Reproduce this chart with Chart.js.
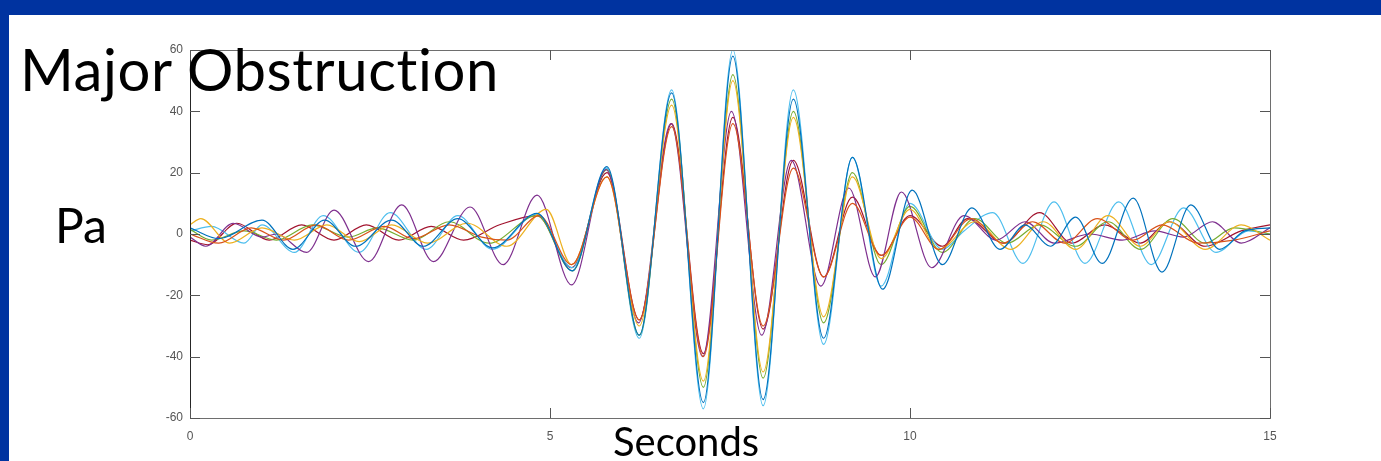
<!DOCTYPE html>
<html>
<head>
<meta charset="utf-8">
<script src="https://cdn.jsdelivr.net/npm/chart.js@4.4.1/dist/chart.umd.min.js"></script>
<style>
  html, body { margin: 0; padding: 0; }
  body { width: 1381px; height: 461px; background: #0033a0; position: relative; overflow: hidden; }
  #panel { position: absolute; left: 9px; top: 15px; right: 0; bottom: 0; background: #fff; }
  #wrap { position: absolute; left: 0; top: 0; width: 1381px; height: 461px; }
  .lbl { position: absolute; font-family: Lato, "Open Sans", sans-serif; color: #000; line-height: 1; white-space: nowrap; font-variant-ligatures: none; }
  #title { left: 20px; top: 40px; font-size: 58px; letter-spacing: 0.6px; }
  #ylab { left: 55px; top: 201px; font-size: 48px; }
  #xlab { left: 613px; top: 421px; font-size: 40px; }
</style>
</head>
<body>
<div id="panel"></div>
<div id="wrap"><canvas id="myChart" width="1381" height="461"></canvas></div>
<div class="lbl" id="title">Major Obstruction</div>
<div class="lbl" id="ylab">Pa</div>
<div class="lbl" id="xlab">Seconds</div>
<script>
"use strict";

// pressure traces, [seconds, Pa] (turning points)
var blue = [[0,2],[0.4,-1.5],[1.0,4.5],[1.43,-5],[1.87,4.5],[2.3,-4],[2.8,4.5],[3.24,-4],[3.72,5],[4.2,-4.5],[4.82,6.7],
    [5.31,-12],[5.79,22],[6.24,-33],[6.69,46],[7.13,-55],[7.54,58],[7.96,-54],[8.38,44],[8.8,-34],[9.2,25],[9.62,-18],[10.03,14.3],
    [10.45,-10],[10.86,8.5],[11.25,-5],[11.6,3],[11.95,-4],[12.3,5.5],[12.67,-9.6],[13.1,11.7],[13.5,-12.4],[13.9,9.5],[14.3,-5],[14.65,1],[15,2]];
var orange = [[0,0],[0.4,-3],[0.85,2],[1.3,-2],[1.75,3],[2.2,-2],[2.7,2.5],[3.1,-1.5],[3.6,3],[4.05,-1],[4.4,-2],[4.85,6],
    [5.3,-10],[5.79,18.6],[6.24,-28],[6.69,35],[7.13,-40],[7.54,36],[7.96,-30],[8.38,21.5],[8.8,-14],[9.2,10],[9.6,-7],[10.0,5.5],
    [10.4,-5],[10.85,5],[11.3,-3],[11.7,4],[12.15,-3],[12.6,5],[13.1,-2],[13.5,3],[14.0,-3],[14.5,-2],[15,1]];
var yellow = [[0,3],[0.15,5],[0.55,-3],[1.0,2],[1.45,-2],[1.9,3],[2.35,-2.5],[2.8,3],[3.3,-3],[3.85,3.5],[4.4,-4],[4.95,8],
    [5.3,-10],[5.79,18.6],[6.24,-30],[6.69,42],[7.13,-48],[7.54,50],[7.96,-45],[8.38,38],[8.8,-27],[9.2,18.6],[9.6,-8],[10.0,8],
    [10.4,-5],[10.9,4],[11.4,-5],[11.85,4],[12.3,-5],[12.75,6],[13.2,-4],[13.6,4],[14.1,-5],[14.6,3],[15,-2]];
var purple = [[0,-1],[0.22,-4],[0.6,3.5],[1.0,-1],[1.2,0],[1.62,-6],[2.0,7.8],[2.48,-9],[2.94,9.5],[3.38,-9],[3.89,8.8],[4.35,-10],[4.82,12.7],
    [5.3,-16.6],[5.78,21],[6.23,-29],[6.68,36],[7.12,-40],[7.52,40],[7.94,-33],[8.35,24],[8.76,-17],[9.15,15],[9.52,-14],[9.88,13.7],
    [10.3,-11],[10.75,6],[11.2,-2],[11.6,4],[12.0,-3],[12.5,0],[12.95,-2],[13.4,1],[13.8,-1],[14.2,4],[14.6,-3],[15,2]];
var green = [[0,1.5],[0.3,-2],[0.75,1],[1.2,-2],[1.7,3],[2.2,-1],[2.6,2],[3.1,-2],[3.6,4],[4.15,-3],[4.82,6],
    [5.31,-12],[5.79,21],[6.24,-33],[6.69,44],[7.13,-50],[7.54,52],[7.96,-47],[8.38,40],[8.8,-29],[9.2,20],[9.6,-10],[10.0,9],
    [10.45,-6],[10.9,5],[11.35,-3],[11.8,3],[12.3,-4],[12.75,4],[13.2,-5],[13.65,5],[14.1,-3],[14.5,2],[15,0]];
var cyan = [[0,1],[0.3,2.5],[0.75,-3],[1.0,3],[1.45,-6],[1.85,6],[2.35,-6],[2.78,7],[3.28,-5],[3.72,6],[4.2,-5],[4.82,6.5],
    [5.31,-11],[5.79,21.5],[6.24,-34],[6.69,47],[7.13,-57],[7.54,60],[7.96,-56],[8.38,47],[8.8,-36],[9.2,25],[9.6,-17],[10.0,10],
    [10.45,-5],[10.75,1],[11.15,7],[11.57,-9.6],[12.0,10.5],[12.43,-9.6],[12.9,10.5],[13.35,-10],[13.8,8.5],[14.25,-6],[14.7,1],[15,0]];
var red = [[0,-2],[0.25,-3.5],[0.65,3.5],[1.1,-2],[1.55,3],[2.0,-2],[2.45,3],[2.9,-2],[3.35,2.5],[3.8,-2],[4.3,3],[4.82,6],
    [5.3,-11],[5.79,20],[6.24,-28],[6.69,36],[7.13,-39],[7.54,38],[7.96,-31],[8.38,24],[8.8,-14],[9.2,12],[9.6,-7],[10.0,6],
    [10.45,-4],[10.8,5],[11.3,-3],[11.8,7],[12.25,-3],[12.7,3],[13.2,-3],[13.6,4],[14.1,-4],[14.6,1],[15,3]];

var xTicks = [0, 5, 10, 15];
var yTicks = [-60, -40, -20, 0, 20, 40, 60];

var series = [blue, orange, yellow, purple, green, cyan, red];
var colors = ['#0072BD', '#D95319', '#EDB120', '#7E2F8E', '#77AC30', '#4DBEEE', '#A2142F'];

// matlab style box with inward ticks
var boxPlugin = {
    id: 'matlabBox',
    afterDraw: function (chart) {
        var ctx = chart.ctx, a = chart.chartArea;
        var xs = chart.scales.x, ys = chart.scales.y;
        ctx.save();
        ctx.lineWidth = 1;
        ctx.strokeStyle = '#6e6e6e';
        ctx.strokeRect(a.left + 0.5, a.top + 0.5, a.right - a.left, a.bottom - a.top);
        ctx.strokeStyle = '#262626';
        ctx.beginPath();
        ctx.moveTo(a.left + 0.5, a.top);
        ctx.lineTo(a.left + 0.5, a.bottom);
        ctx.stroke();
        ctx.strokeStyle = '#555';
        ctx.beginPath();
        xTicks.forEach(function (v) {
            var p = Math.round(xs.getPixelForValue(v)) + 0.5;
            ctx.moveTo(p, a.bottom); ctx.lineTo(p, a.bottom - 10);
            ctx.moveTo(p, a.top); ctx.lineTo(p, a.top + 10);
        });
        yTicks.forEach(function (v) {
            var p = Math.round(ys.getPixelForValue(v)) + 0.5;
            ctx.moveTo(a.left, p); ctx.lineTo(a.left + 10, p);
            ctx.moveTo(a.right, p); ctx.lineTo(a.right - 10, p);
        });
        ctx.stroke();
        ctx.restore();
    }
};

var ctx = document.getElementById("myChart");
var myChart = new Chart(ctx, {
    type: 'line',
    data: {
        datasets: series.map(function (s, i) {
            return {
                data: s,
                borderColor: colors[i],
                borderWidth: 1.2,
                pointRadius: 0,
                fill: false,
                cubicInterpolationMode: 'monotone'
            };
        })
    },
    options: {
        responsive: false,
        animation: { duration: 0 },
        layout: { padding: { top: 50, right: 111, left: 0, bottom: 0 } },
        plugins: { legend: { display: false }, tooltip: { enabled: false } },
        scales: {
            x: {
                type: 'linear', min: 0, max: 15,
                afterBuildTicks: function (s) { s.ticks = xTicks.map(function (v) { return { value: v }; }); },
                afterFit: function (s) { s.height = 43; },
                grid: { display: false, drawTicks: false },
                border: { display: false },
                ticks: { padding: 11, color: '#555', font: { family: 'Liberation Sans', size: 12 }, maxRotation: 0 }
            },
            y: {
                min: -60, max: 60,
                afterBuildTicks: function (s) { s.ticks = yTicks.map(function (v) { return { value: v }; }); },
                afterFit: function (s) { s.width = 190; },
                grid: { display: false, drawTicks: false },
                border: { display: false },
                ticks: { padding: 7, color: '#555', font: { family: 'Liberation Sans', size: 12 } }
            }
        }
    },
    plugins: [boxPlugin]
});
</script>
</body>
</html>
